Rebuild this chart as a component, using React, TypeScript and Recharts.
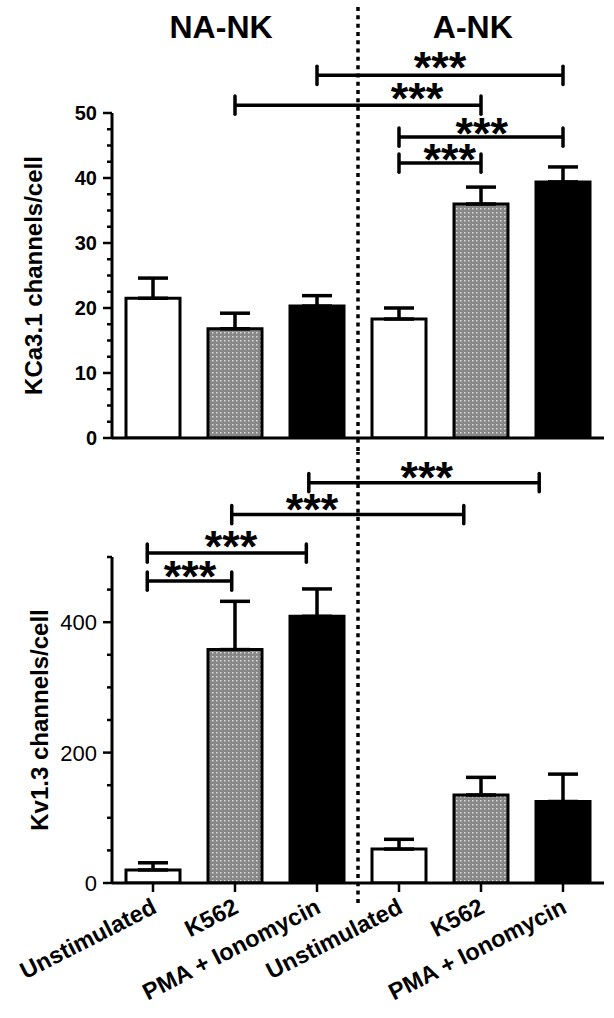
import React from 'react'
import {
  ComposedChart,
  Bar,
  Cell,
  XAxis,
  YAxis,
  ErrorBar,
  ReferenceLine,
  ReferenceDot,
} from 'recharts'

const FONT = '"Liberation Sans", Arial, Helvetica, sans-serif'

const groups = ['NA-NK', 'A-NK']
const conditions = ['Unstimulated', 'K562', 'PMA + Ionomycin']
const tickLabels = [...conditions, ...conditions]

// KCa3.1 channels/cell (mean, SEM)
const kcaMean = [21.5, 16.8, 20.3, 18.3, 36.0, 39.4]
const kcaSem = [3.1, 2.4, 1.6, 1.7, 2.6, 2.3]

// Kv1.3 channels/cell (mean, SEM)
const kvMean = [20, 358, 409, 52, 135, 125]
const kvSem = [11, 74, 42, 15, 27, 42]

const kcaMajor = [0, 10, 20, 30, 40, 50]
const kvMajor = [0, 200, 400]
const kcaTicks = Array.from({ length: 21 }, (_, i) => i * 2.5)
const kvTicks = Array.from({ length: 11 }, (_, i) => i * 50)
const xTicks = tickLabels.map((_, i) => i + 0.5)

// significance brackets, x in category units (bar centres at i + 0.5)
const kcaBrackets = [
  { from: 2.5, to: 5.5, y: 55.8, starX: 4.0, starY: 57.8 },
  { from: 1.5, to: 4.5, y: 51.2, starX: 3.72, starY: 53.1 },
  { from: 3.5, to: 5.5, y: 46.3, starX: 4.51, starY: 47.7 },
  { from: 3.5, to: 4.5, y: 42.3, starX: 4.12, starY: 43.7 },
]
const kvBrackets = [
  { from: 2.4, to: 5.21, y: 614, starX: 3.84, starY: 631 },
  { from: 1.46, to: 4.29, y: 565, starX: 2.44, starY: 582 },
  { from: 0.43, to: 2.37, y: 506, starX: 1.45, starY: 525 },
  { from: 0.43, to: 1.46, y: 463, starX: 0.95, starY: 478 },
]
const titlePos = [
  { x: 1.33, y: 61.5 },
  { x: 4.4, y: 61.5 },
]

const makeRows = (mean: number[], sem: number[]) =>
  mean.map((m, i) => ({ pos: i + 0.5, value: m, err: [0, sem[i]] }))

const kcaData = makeRows(kcaMean, kcaSem)
const kvData = makeRows(kvMean, kvSem)

const barFill = (i: number, pattern: string) =>
  ['#ffffff', `url(#${pattern})`, '#000000'][i % 3]

const makeYTick = (majors: number[], weight: string, size: number) => (props: any) => {
  const { x, y, payload } = props
  const major = majors.includes(payload.value)
  return (
    <g>
      <line x1={x} x2={x - (major ? 9 : 5)} y1={y} y2={y} stroke="#000" strokeWidth={2.5} />
      {major && (
        <text
          x={x - 15}
          y={y}
          dy="0.36em"
          textAnchor="end"
          fontFamily={FONT}
          fontWeight={weight}
          fontSize={size}
          fill="#000"
        >
          {payload.value}
        </text>
      )}
    </g>
  )
}

const XTick = (props: any) => {
  const { x, y, payload } = props
  const label = tickLabels[Math.floor(payload.value)]
  const ax = x + 5
  const ay = y + 18
  return (
    <text
      x={ax}
      y={ay}
      transform={`rotate(-27, ${ax}, ${ay})`}
      textAnchor="end"
      fontFamily={FONT}
      fontWeight="bold"
      fontSize={23.5}
      fill="#000"
    >
      {label}
    </text>
  )
}

const YLabel = (props: any) => {
  const { viewBox, text, dx } = props
  const cx = viewBox.x + dx
  const cy = viewBox.y + viewBox.height / 2
  return (
    <text
      x={cx}
      y={cy}
      transform={`rotate(-90, ${cx}, ${cy})`}
      textAnchor="middle"
      fontFamily={FONT}
      fontWeight="bold"
      fontSize={24}
      fill="#000"
    >
      {text}
    </text>
  )
}

const Stars = (props: any) => (
  <text
    x={props.cx}
    y={props.cy}
    dy={21}
    textAnchor="middle"
    fontFamily={FONT}
    fontWeight="bold"
    fontSize={45}
    fill="#000"
  >
    ***
  </text>
)

const titleShape = (text: string) => (props: any) => (
  <text
    x={props.cx}
    y={props.cy}
    textAnchor="middle"
    fontFamily={FONT}
    fontWeight="bold"
    fontSize={32}
    fill="#000"
  >
    {text}
  </text>
)

const renderBrackets = (list: any[], cap: number, key: string) =>
  list.flatMap((b, i) => [
    <ReferenceLine
      key={`${key}h${i}`}
      ifOverflow="visible"
      segment={[{ x: b.from, y: b.y }, { x: b.to, y: b.y }]}
      stroke="#000"
      strokeWidth={3.5}
    />,
    <ReferenceLine
      key={`${key}l${i}`}
      ifOverflow="visible"
      segment={[{ x: b.from, y: b.y - cap }, { x: b.from, y: b.y + cap }]}
      stroke="#000"
      strokeWidth={3.5}
      strokeLinecap="round"
    />,
    <ReferenceLine
      key={`${key}r${i}`}
      ifOverflow="visible"
      segment={[{ x: b.to, y: b.y - cap }, { x: b.to, y: b.y + cap }]}
      stroke="#000"
      strokeWidth={3.5}
      strokeLinecap="round"
    />,
    <ReferenceDot
      key={`${key}s${i}`}
      x={b.starX}
      y={b.starY}
      r={0}
      ifOverflow="visible"
      shape={Stars}
    />,
  ])

const Stipple = ({ id }: { id: string }) => (
  <defs>
    <pattern id={id} width="4" height="4" patternUnits="userSpaceOnUse">
      <rect width="4" height="4" fill="#878787" />
      <rect width="1.5" height="1.5" fill="#dcdcdc" />
    </pattern>
  </defs>
)

export default function App() {
  return (
    <div
      style={{
        position: 'absolute',
        left: 0,
        top: 0,
        width: 614,
        height: 1018,
        background: '#fff',
        fontFamily: FONT,
      }}
    >
      <div style={{ position: 'absolute', left: 0, top: 0 }}>
        <ComposedChart
          width={614}
          height={452}
          data={kcaData}
          margin={{ top: 113, right: 10, bottom: 0, left: 52 }}
          barSize={54}
        >
          <Stipple id="stippleTop" />
          <XAxis
            dataKey="pos"
            type="number"
            domain={[0, 6]}
            ticks={xTicks}
            interval={0}
            allowDataOverflow
            tick={false}
            tickSize={9}
            height={14}
            axisLine={{ stroke: '#000', strokeWidth: 3 }}
            tickLine={{ stroke: '#000', strokeWidth: 2.5 }}
          />
          <YAxis
            width={60}
            domain={[0, 50]}
            ticks={kcaTicks}
            interval={0}
            allowDataOverflow
            tickSize={0}
            tickMargin={0}
            tickLine={false}
            axisLine={{ stroke: '#000', strokeWidth: 3 }}
            tick={makeYTick(kcaMajor, 'bold', 20)}
            label={<YLabel text="KCa3.1 channels/cell" dx={-10} />}
          />
          <Bar dataKey="value" stroke="#000" strokeWidth={3} isAnimationActive={false}>
            {kcaData.map((d, i) => (
              <Cell key={d.pos} fill={barFill(i, 'stippleTop')} />
            ))}
            <ErrorBar
              dataKey="err"
              direction="y"
              width={15}
              stroke="#000"
              strokeWidth={3.5}
              isAnimationActive={false}
            />
          </Bar>
          <ReferenceLine
            ifOverflow="visible"
            segment={[{ x: 3, y: 66.3 }, { x: 3, y: -2.2 }]}
            stroke="#000"
            strokeWidth={3.5}
            strokeDasharray="4 4.3"
          />
          {renderBrackets(kcaBrackets, 1.4, 'k')}
          {groups.map((g, i) => (
            <ReferenceDot
              key={g}
              x={titlePos[i].x}
              y={titlePos[i].y}
              r={0}
              ifOverflow="visible"
              shape={titleShape(g)}
            />
          ))}
        </ComposedChart>
      </div>
      <div style={{ position: 'absolute', left: 0, top: 452 }}>
        <ComposedChart
          width={614}
          height={566}
          data={kvData}
          margin={{ top: 105, right: 10, bottom: 15, left: 52 }}
          barSize={54}
        >
          <Stipple id="stippleBottom" />
          <XAxis
            dataKey="pos"
            type="number"
            domain={[0, 6]}
            ticks={xTicks}
            interval={0}
            allowDataOverflow
            tick={<XTick />}
            tickSize={9}
            tickMargin={2}
            height={120}
            axisLine={{ stroke: '#000', strokeWidth: 3 }}
            tickLine={{ stroke: '#000', strokeWidth: 2.5 }}
          />
          <YAxis
            width={60}
            domain={[0, 500]}
            ticks={kvTicks}
            interval={0}
            allowDataOverflow
            tickSize={0}
            tickMargin={0}
            tickLine={false}
            axisLine={{ stroke: '#000', strokeWidth: 3 }}
            tick={makeYTick(kvMajor, 'normal', 22)}
            label={<YLabel text="Kv1.3 channels/cell" dx={-4} />}
          />
          <Bar dataKey="value" stroke="#000" strokeWidth={3} isAnimationActive={false}>
            {kvData.map((d, i) => (
              <Cell key={d.pos} fill={barFill(i, 'stippleBottom')} />
            ))}
            <ErrorBar
              dataKey="err"
              direction="y"
              width={15}
              stroke="#000"
              strokeWidth={3.5}
              isAnimationActive={false}
            />
          </Bar>
          <ReferenceLine
            ifOverflow="visible"
            segment={[{ x: 3, y: 663 }, { x: 3, y: -33.8 }]}
            stroke="#000"
            strokeWidth={3.5}
            strokeDasharray="4 4.3"
          />
          {renderBrackets(kvBrackets, 14, 'v')}
        </ComposedChart>
      </div>
    </div>
  )
}
